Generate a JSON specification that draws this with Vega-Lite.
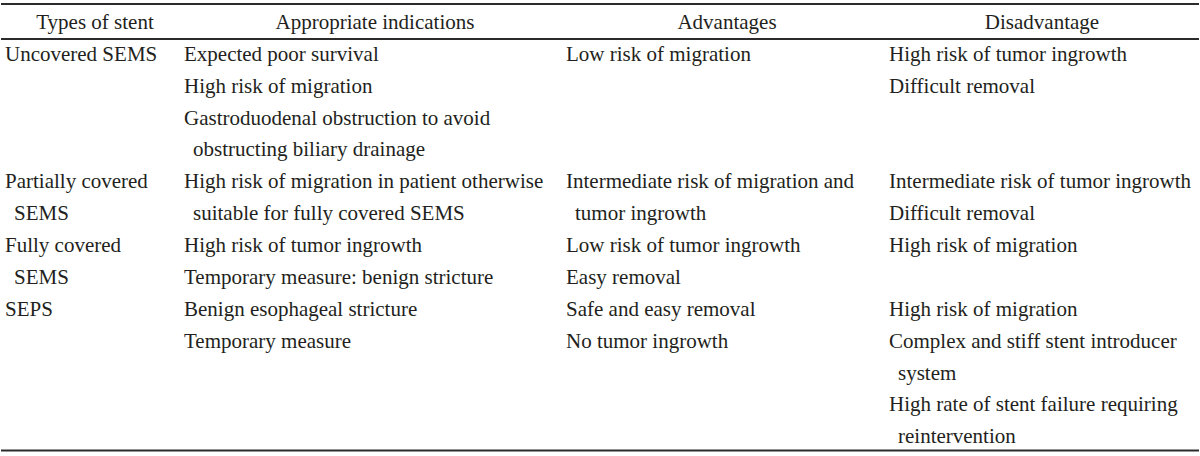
{
  "$schema": "https://vega.github.io/schema/vega-lite/v6.json",
  "width": 1200,
  "height": 456,
  "padding": 0,
  "autosize": {"type": "fit", "contains": "padding"},
  "background": "#ffffff",
  "config": {"view": {"stroke": null}},
  "datasets": {
    "rules": [
      {"rule": "top", "line": -0.785},
      {"rule": "header", "line": 0.315},
      {"rule": "bottom", "line": 13.225}
    ],
    "header": [
      {"col": 1, "line": 0, "text": "Types of stent"},
      {"col": 2, "line": 0, "text": "Appropriate indications"},
      {"col": 3, "line": 0, "text": "Advantages"},
      {"col": 4, "line": 0, "text": "Disadvantage"}
    ],
    "body": [
      {"col": 1, "line": 1, "cont": 0, "text": "Uncovered SEMS"},
      {"col": 2, "line": 1, "cont": 0, "text": "Expected poor survival"},
      {"col": 3, "line": 1, "cont": 0, "text": "Low risk of migration"},
      {"col": 4, "line": 1, "cont": 0, "text": "High risk of tumor ingrowth"},
      {"col": 2, "line": 2, "cont": 0, "text": "High risk of migration"},
      {"col": 4, "line": 2, "cont": 0, "text": "Difficult removal"},
      {"col": 2, "line": 3, "cont": 0, "text": "Gastroduodenal obstruction to avoid"},
      {"col": 2, "line": 4, "cont": 1, "text": "obstructing biliary drainage"},
      {"col": 1, "line": 5, "cont": 0, "text": "Partially covered"},
      {"col": 2, "line": 5, "cont": 0, "text": "High risk of migration in patient otherwise"},
      {"col": 3, "line": 5, "cont": 0, "text": "Intermediate risk of migration and"},
      {"col": 4, "line": 5, "cont": 0, "text": "Intermediate risk of tumor ingrowth"},
      {"col": 1, "line": 6, "cont": 1, "text": "SEMS"},
      {"col": 2, "line": 6, "cont": 1, "text": "suitable for fully covered SEMS"},
      {"col": 3, "line": 6, "cont": 1, "text": "tumor ingrowth"},
      {"col": 4, "line": 6, "cont": 0, "text": "Difficult removal"},
      {"col": 1, "line": 7, "cont": 0, "text": "Fully covered"},
      {"col": 2, "line": 7, "cont": 0, "text": "High risk of tumor ingrowth"},
      {"col": 3, "line": 7, "cont": 0, "text": "Low risk of tumor ingrowth"},
      {"col": 4, "line": 7, "cont": 0, "text": "High risk of migration"},
      {"col": 1, "line": 8, "cont": 1, "text": "SEMS"},
      {"col": 2, "line": 8, "cont": 0, "text": "Temporary measure: benign stricture"},
      {"col": 3, "line": 8, "cont": 0, "text": "Easy removal"},
      {"col": 1, "line": 9, "cont": 0, "text": "SEPS"},
      {"col": 2, "line": 9, "cont": 0, "text": "Benign esophageal stricture"},
      {"col": 3, "line": 9, "cont": 0, "text": "Safe and easy removal"},
      {"col": 4, "line": 9, "cont": 0, "text": "High risk of migration"},
      {"col": 2, "line": 10, "cont": 0, "text": "Temporary measure"},
      {"col": 3, "line": 10, "cont": 0, "text": "No tumor ingrowth"},
      {"col": 4, "line": 10, "cont": 0, "text": "Complex and stiff stent introducer"},
      {"col": 4, "line": 11, "cont": 1, "text": "system"},
      {"col": 4, "line": 12, "cont": 0, "text": "High rate of stent failure requiring"},
      {"col": 4, "line": 13, "cont": 1, "text": "reintervention"}
    ]
  },
  "layer": [
    {
      "data": {"name": "rules"},
      "mark": {"type": "rule", "stroke": "#2b2b2b", "strokeWidth": 2},
      "encoding": {
        "y": {"field": "line", "type": "quantitative", "axis": null,
              "scale": {"domain": [-0.91, 13.398], "reverse": true, "nice": false, "zero": false}}
      }
    },
    {
      "data": {"name": "header"},
      "mark": {"type": "text", "align": "center", "baseline": "alphabetic", "font": "Liberation Serif", "fontSize": 21, "color": "#231f20"},
      "encoding": {
        "x": {"field": "col", "type": "quantitative", "axis": null,
              "scale": {"domain": [1, 2, 3, 4], "range": [94, 374, 726, 1041], "nice": false, "zero": false}},
        "y": {"field": "line", "type": "quantitative", "axis": null,
              "scale": {"domain": [-0.91, 13.398], "reverse": true, "nice": false, "zero": false}},
        "text": {"field": "text"}
      }
    },
    {
      "data": {"name": "body"},
      "transform": [{"filter": "datum.cont == 0"}],
      "mark": {"type": "text", "align": "left", "baseline": "alphabetic", "font": "Liberation Serif", "fontSize": 21, "color": "#231f20"},
      "encoding": {
        "x": {"field": "col", "type": "quantitative", "axis": null,
              "scale": {"domain": [1, 2, 3, 4], "range": [4, 183, 565, 888], "nice": false, "zero": false}},
        "y": {"field": "line", "type": "quantitative", "axis": null,
              "scale": {"domain": [-0.91, 13.398], "reverse": true, "nice": false, "zero": false}},
        "text": {"field": "text"}
      }
    },
    {
      "data": {"name": "body"},
      "transform": [{"filter": "datum.cont == 1"}],
      "mark": {"type": "text", "align": "left", "baseline": "alphabetic", "font": "Liberation Serif", "fontSize": 21, "color": "#231f20"},
      "encoding": {
        "x": {"field": "col", "type": "quantitative", "axis": null,
              "scale": {"domain": [1, 2, 3, 4], "range": [13, 192, 574, 897], "nice": false, "zero": false}},
        "y": {"field": "line", "type": "quantitative", "axis": null,
              "scale": {"domain": [-0.91, 13.398], "reverse": true, "nice": false, "zero": false}},
        "text": {"field": "text"}
      }
    }
  ],
  "resolve": {"scale": {"x": "independent"}}
}
